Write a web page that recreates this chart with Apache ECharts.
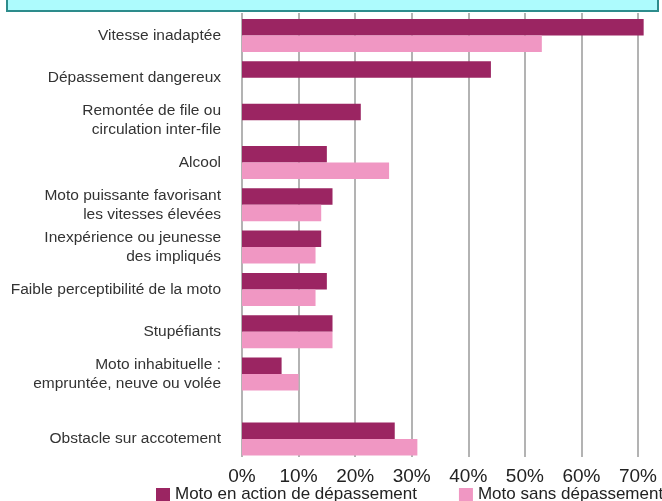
<!DOCTYPE html>
<html>
<head>
<meta charset="utf-8">
<script src="https://cdn.jsdelivr.net/npm/echarts@6/dist/echarts.min.js"></script>
<style>html,body{margin:0;padding:0;background:#fff;}#c{width:662px;height:501px;}</style>
</head>
<body>
<div id="c"></div>
<script>
// Categories (top to bottom)
var categoriesMain = [
  'Vitesse inadaptée',
  'Dépassement dangereux',
  'Remontée de file ou\ncirculation inter-file',
  'Alcool',
  'Moto puissante favorisant\nles vitesses élevées',
  'Inexpérience ou jeunesse\ndes impliqués',
  'Faible perceptibilité de la moto',
  'Stupéfiants',
  'Moto inhabituelle :\nempruntée, neuve ou volée'
];
var categoriesLast = ['Obstacle sur accotement'];

var seriesNames = ['Moto en action de dépassement', 'Moto sans dépassement'];

// Values in % (main block)
var depassementMain = [71, 44, 21, 15, 16, 14, 15, 16, 7];
var sansDepassementMain = [53, null, null, 26, 14, 13, 13, 16, 10];
// Values in % (last block)
var depassementLast = [27];
var sansDepassementLast = [31];

// X axis ticks
var xMin = 0, xMax = 70, xStep = 10;

var DARK = '#9b2562';
var PINK = '#f097c3';
var FONT = 'Liberation Sans, Arial, sans-serif';

var chart = echarts.init(document.getElementById('c'), null, {renderer: 'canvas'});

var L = 242, R = 24;
var bandH = 42.33;

var option = {
  animation: false,
  backgroundColor: '#ffffff',
  textStyle: {fontFamily: FONT},
  graphic: [{
    type: 'rect',
    shape: {x: 7, y: -10, width: 651, height: 21},
    style: {fill: '#adfbfd', stroke: '#2d8c8c', lineWidth: 2},
    z: 10
  }],
  legend: {
    data: seriesNames,
    orient: 'horizontal',
    left: 156,
    top: 486,
    width: 540,
    padding: 0,
    icon: 'rect',
    itemWidth: 14,
    itemHeight: 13,
    itemGap: 42,
    textStyle: {fontSize: 17, color: '#222', fontFamily: FONT}
  },
  grid: [
    {left: L, right: R, top: 13, height: 444, containLabel: false},
    {left: L, right: R, top: 14.3, height: bandH * 9, containLabel: false},
    {left: L, right: R, top: 417.8, height: bandH, containLabel: false}
  ],
  xAxis: [
    {gridIndex: 0, type: 'value', min: xMin, max: xMax, interval: xStep,
      axisLine: {show: false}, axisTick: {show: false},
      splitLine: {show: true, lineStyle: {color: '#9a9a9a', width: 1.5}},
      axisLabel: {formatter: '{value}%', fontSize: 19, color: '#222', margin: 10, fontFamily: FONT}},
    {gridIndex: 1, type: 'value', min: xMin, max: xMax, interval: xStep, show: false},
    {gridIndex: 2, type: 'value', min: xMin, max: xMax, interval: xStep, show: false}
  ],
  yAxis: [
    {gridIndex: 0, type: 'category', data: [], show: false},
    {gridIndex: 1, type: 'category', inverse: true, data: categoriesMain,
      axisLine: {show: false}, axisTick: {show: false}, splitLine: {show: false},
      axisLabel: {fontSize: 15.5, color: '#333', margin: 21, lineHeight: 19, fontFamily: FONT}},
    {gridIndex: 2, type: 'category', inverse: true, data: categoriesLast,
      axisLine: {show: false}, axisTick: {show: false}, splitLine: {show: false},
      axisLabel: {fontSize: 15.5, color: '#333', margin: 21, fontFamily: FONT}}
  ],
  series: [
    {name: seriesNames[0], type: 'bar', xAxisIndex: 1, yAxisIndex: 1, data: depassementMain,
      barWidth: 16.5, barGap: '0%', clip: false, itemStyle: {color: DARK}},
    {name: seriesNames[1], type: 'bar', xAxisIndex: 1, yAxisIndex: 1, data: sansDepassementMain,
      barWidth: 16.5, barGap: '0%', clip: false, itemStyle: {color: PINK}},
    {name: seriesNames[0], type: 'bar', xAxisIndex: 2, yAxisIndex: 2, data: depassementLast,
      barWidth: 16.5, barGap: '0%', clip: false, itemStyle: {color: DARK}},
    {name: seriesNames[1], type: 'bar', xAxisIndex: 2, yAxisIndex: 2, data: sansDepassementLast,
      barWidth: 16.5, barGap: '0%', clip: false, itemStyle: {color: PINK}}
  ]
};
chart.setOption(option);
</script>
</body>
</html>
